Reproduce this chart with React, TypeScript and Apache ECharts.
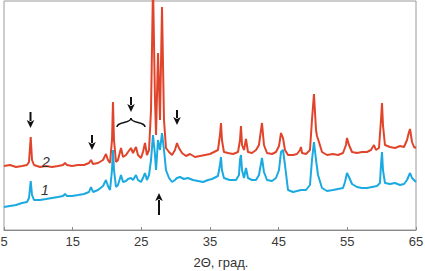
import React, { useEffect, useRef } from "react";
import * as echarts from "echarts";

// 2θ tick labels
const xTicks = [5, 15, 25, 35, 45, 55, 65];

// curve 2 (red): [2θ, intensity (arb. units)]
const curve2: [number, number][] = [
  [5.0, 64], [5.87, 65], [6.75, 63], [7.62, 64], [8.35, 65], [8.64, 68], [8.89, 93], [9.08, 70], [9.37, 65],
  [10.24, 63], [11.12, 64], [11.99, 63], [12.86, 64], [13.59, 65], [13.88, 67], [14.17, 65], [14.9, 64],
  [15.78, 65], [16.65, 65], [17.38, 67], [17.67, 70], [17.96, 66], [18.69, 67], [19.42, 70], [19.85, 76],
  [20.14, 70], [20.44, 67], [20.73, 90], [20.87, 128], [21.02, 90], [21.31, 68], [21.6, 70], [22.04, 82],
  [22.33, 73], [22.77, 75], [23.06, 78], [23.49, 82], [23.79, 77], [24.22, 83], [24.51, 75], [24.95, 72],
  [25.24, 78], [25.53, 87], [25.82, 75], [26.12, 80], [26.41, 120], [26.7, 245], [26.99, 130], [27.14, 95],
  [27.43, 177], [27.72, 110], [28.01, 223], [28.3, 110], [28.59, 82], [29.03, 78], [29.47, 75], [29.9, 80],
  [30.19, 87], [30.48, 82], [30.92, 77], [31.5, 74], [32.09, 76], [32.81, 73], [33.54, 74], [34.27, 75],
  [35.0, 76], [35.58, 78], [36.16, 80], [36.45, 95], [36.6, 107], [36.74, 90], [37.03, 78], [37.62, 77],
  [38.35, 76], [39.08, 78], [39.37, 90], [39.51, 104], [39.66, 85], [39.95, 80], [40.24, 91], [40.53, 78],
  [41.11, 77], [41.7, 80], [42.13, 85], [42.57, 107], [42.86, 85], [43.3, 77], [44.03, 76], [44.61, 78],
  [45.05, 84], [45.34, 97], [45.63, 92], [45.92, 80], [46.36, 75], [47.09, 75], [47.67, 76], [48.11, 80],
  [48.25, 83], [48.4, 77], [48.98, 76], [49.56, 80], [49.85, 110], [50.14, 136], [50.44, 100], [50.58, 94],
  [50.87, 88], [51.31, 78], [52.04, 75], [52.91, 76], [53.64, 75], [54.37, 77], [54.8, 85], [54.95, 92],
  [55.24, 85], [55.68, 78], [56.41, 77], [57.13, 78], [57.86, 78], [58.44, 80], [58.88, 85], [59.17, 80],
  [59.61, 82], [59.9, 110], [60.05, 127], [60.19, 105], [60.48, 85], [61.21, 83], [61.94, 82], [62.67, 84],
  [63.25, 83], [63.69, 90], [63.98, 98], [64.13, 101], [64.42, 88], [64.71, 83], [65.0, 82],
];

// curve 1 (blue): [2θ, intensity (arb. units)]
const curve1: [number, number][] = [
  [5.0, 23], [5.87, 24], [6.75, 25], [7.62, 27], [8.35, 28], [8.64, 32], [8.89, 49], [9.08, 35], [9.37, 30],
  [10.24, 30], [11.12, 31], [11.99, 32], [12.86, 33], [13.59, 34], [13.88, 36], [14.17, 34], [14.9, 34],
  [15.78, 35], [16.65, 36], [17.38, 38], [17.67, 43], [17.96, 38], [18.69, 40], [19.42, 44], [19.85, 50],
  [20.14, 44], [20.44, 40], [20.73, 60], [20.87, 80], [21.02, 60], [21.31, 43], [21.6, 45], [22.04, 55],
  [22.33, 48], [22.77, 49], [23.06, 51], [23.49, 52], [23.79, 50], [24.22, 55], [24.51, 50], [24.95, 48],
  [25.24, 52], [25.53, 57], [25.82, 50], [26.12, 55], [26.41, 70], [26.7, 95], [26.99, 75], [27.14, 60],
  [27.43, 90], [27.72, 80], [28.01, 97], [28.3, 80], [28.59, 60], [29.03, 52], [29.47, 48], [29.9, 50],
  [30.19, 52], [30.63, 53], [31.21, 51], [31.79, 52], [32.52, 50], [33.25, 49], [33.98, 48], [34.71, 50],
  [35.29, 51], [36.16, 54], [36.45, 65], [36.6, 73], [36.74, 60], [37.03, 52], [37.86, 50], [38.79, 50],
  [39.22, 55], [39.37, 70], [39.51, 75], [39.66, 60], [39.95, 52], [40.24, 62], [40.53, 52], [41.11, 50],
  [41.7, 50], [42.13, 55], [42.57, 72], [42.86, 58], [43.3, 50], [44.03, 49], [44.61, 52], [45.05, 60],
  [45.34, 78], [45.63, 80], [45.92, 65], [46.36, 40], [47.09, 38], [47.67, 39], [48.25, 40], [48.98, 40],
  [49.56, 45], [49.85, 70], [50.14, 88], [50.44, 70], [50.73, 55], [51.31, 42], [52.04, 39], [52.91, 40],
  [53.64, 41], [54.37, 42], [54.66, 48], [54.95, 57], [55.24, 53], [55.68, 46], [56.41, 43], [57.13, 42],
  [57.86, 42], [58.59, 43], [59.32, 44], [59.75, 47], [59.9, 65], [60.05, 78], [60.19, 60], [60.48, 47],
  [61.21, 46], [61.94, 47], [62.67, 45], [63.25, 46], [63.69, 50], [64.13, 57], [64.42, 52], [65.0, 48],
];

const FONT = "'Liberation Sans', Arial, sans-serif";

function arrow(x: number, y1: number, y2: number) {
  // shaft from y1 to tip y2 (tip direction by sign)
  const dir = y2 > y1 ? 1 : -1;
  const headH = 8;
  const headW = 3.8;
  return [
    {
      type: "line",
      shape: { x1: x, y1, x2: x, y2: y2 - dir * headH + dir * 1 },
      style: { stroke: "#111", lineWidth: 2 },
      z: 100,
    },
    {
      type: "polygon",
      shape: {
        points: [
          [x - headW, y2 - dir * headH],
          [x, y2 - dir * (headH - 2)],
          [x + headW, y2 - dir * headH],
          [x, y2],
        ],
      },
      style: { fill: "#111" },
      z: 100,
    },
  ];
}

export default function App() {
  const ref = useRef<HTMLDivElement>(null);
  useEffect(() => {
    document.body.style.margin = "0";
    if (!ref.current) return;
    const chart = echarts.init(ref.current, null, { renderer: "svg" });
    const braceStyle = { stroke: "#111", lineWidth: 1.5, fill: "none" };
    chart.setOption({
      animation: false,
      grid: {
        left: 4,
        right: 9,
        top: 1,
        bottom: 41,
        show: true,
        borderColor: "#9a9a9a",
        borderWidth: 1,
        outerBoundsMode: "none",
      },
      xAxis: {
        type: "value",
        min: 5,
        max: 65,
        interval: 10,
        axisLine: { lineStyle: { color: "#8a8a8a", width: 1 } },
        axisTick: { inside: true, length: 3, lineStyle: { color: "#8a8a8a" } },
        splitLine: { show: false },
        axisLabel: {
          color: "#3a3a3a",
          fontSize: 13,
          fontFamily: FONT,
          margin: 5,
          formatter: (v: number) => (xTicks.includes(v) ? String(v) : ""),
        },
      },
      yAxis: {
        type: "value",
        min: 0,
        max: 229,
        show: false,
      },
      series: [
        {
          type: "line",
          data: curve2,
          symbol: "none",
          clip: true,
          lineStyle: { color: "#e0452b", width: 2 },
        },
        {
          type: "line",
          data: curve1,
          symbol: "none",
          clip: true,
          lineStyle: { color: "#1ba9e1", width: 2 },
        },
      ],
      graphic: [
        ...arrow(30.5, 112, 128),
        ...arrow(92, 135, 150),
        ...arrow(131, 97, 112),
        ...arrow(177, 110, 125),
        ...arrow(159, 215, 193),
        {
          type: "bezierCurve",
          shape: { x1: 117, y1: 127, cpx1: 117, cpy1: 121, cpx2: 131, cpy2: 124, x2: 131, y2: 118 },
          style: braceStyle,
          z: 100,
        },
        {
          type: "bezierCurve",
          shape: { x1: 145, y1: 127, cpx1: 145, cpy1: 121, cpx2: 131, cpy2: 124, x2: 131, y2: 118 },
          style: braceStyle,
          z: 100,
        },
        {
          type: "text",
          x: 46,
          y: 162,
          style: {
            text: "2",
            fontSize: 14,
            fontStyle: "italic",
            fontFamily: FONT,
            fill: "#333",
            align: "center",
            verticalAlign: "middle",
          },
          z: 100,
        },
        {
          type: "text",
          x: 45,
          y: 190,
          style: {
            text: "1",
            fontSize: 14,
            fontStyle: "italic",
            fontFamily: FONT,
            fill: "#333",
            align: "center",
            verticalAlign: "middle",
          },
          z: 100,
        },
        {
          type: "text",
          x: 221,
          y: 262,
          style: {
            text: "2Θ, град.",
            fontSize: 13,
            fontFamily: FONT,
            fill: "#333",
            align: "center",
            verticalAlign: "middle",
          },
          z: 100,
        },
      ],
    });
    return () => chart.dispose();
  }, []);
  return <div ref={ref} style={{ width: 425, height: 271 }} />;
}
